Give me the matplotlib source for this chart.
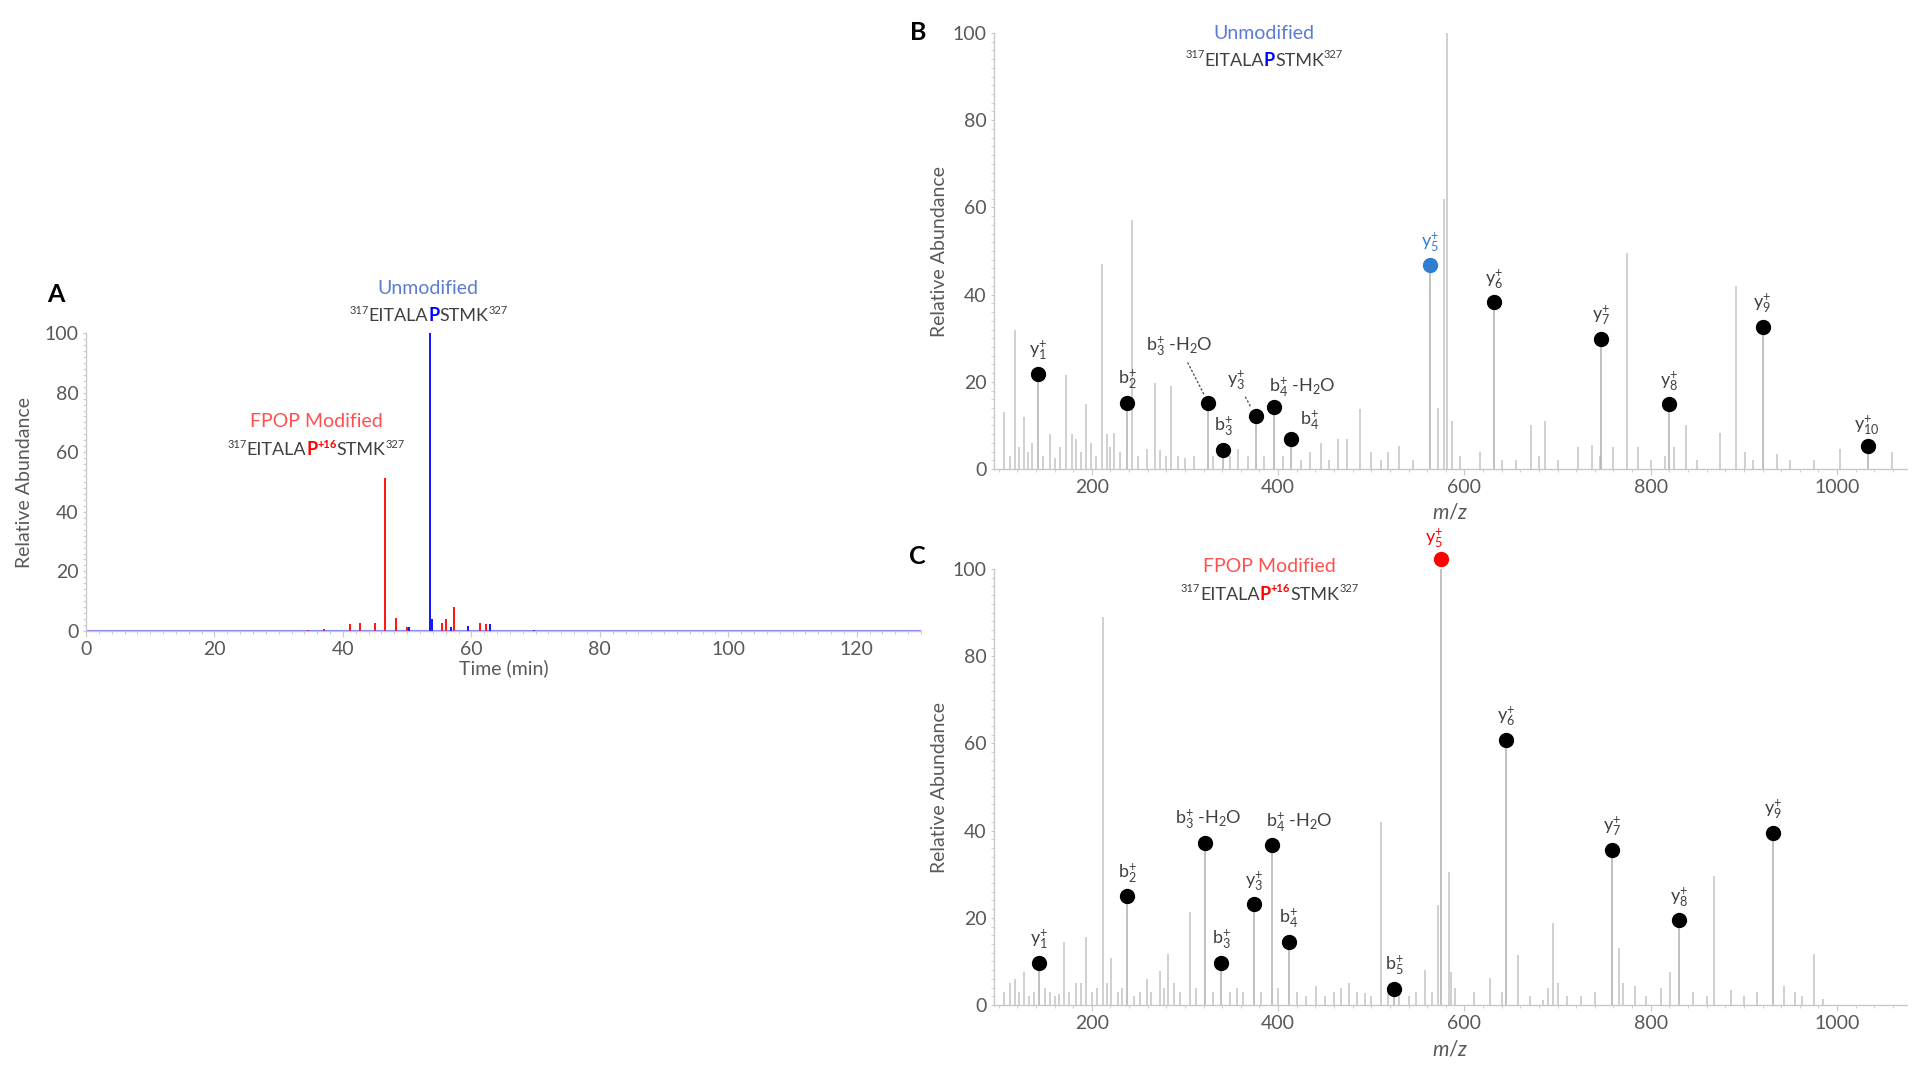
import numpy as np
import matplotlib
matplotlib.use('Agg')
import matplotlib.pyplot as plt
from matplotlib import transforms as mtransforms
from matplotlib.ticker import MultipleLocator

plt.rcParams['font.family'] = ['Lato', 'DejaVu Sans']
plt.rcParams['mathtext.fontset'] = 'custom'
plt.rcParams['mathtext.rm'] = 'Lato'
plt.rcParams['mathtext.it'] = 'Lato:italic'
plt.rcParams['mathtext.bf'] = 'Lato:bold'

# ---------------- data ----------------
# panel A, extracted ion chromatogram
unmod_time = [50.3, 53.5, 53.8, 56.8, 59.4, 62.9, 69.7]
unmod_abund = [1.2, 100, 4, 1.5, 1.7, 2.3, 0.3]
mod_time = [34.6, 37.0, 41.1, 42.7, 45.0, 46.6, 48.3, 50.0, 55.4, 56.0, 57.3, 61.4, 62.3]
mod_abund = [0.5, 0.6, 2.3, 2.8, 2.8, 51.4, 4.5, 1.4, 2.8, 4.0, 8.1, 2.8, 2.3]

# panel B, MS/MS spectrum of unmodified peptide
b_mz = [106, 112, 118, 122, 127, 131, 136, 148, 155, 160, 166, 172, 179, 183, 188, 194, 199,
        205, 211, 216, 220, 224, 230, 243, 250, 259, 268, 273, 280, 285, 292, 300, 310, 330,
        348, 357, 368, 385, 405, 425, 434, 446, 455, 464, 474, 488, 500, 510, 518, 530, 545,
        572, 578, 581, 587, 595, 617, 640, 655, 671, 680, 687, 700, 722, 737, 745, 759, 775,
        786, 800, 815, 825, 838, 850, 874, 891, 901, 910, 935, 950, 975, 1003, 1059]
b_int = [13, 3, 32, 5, 12, 4, 6, 3, 8, 2.5, 5, 21.6, 8, 7, 4, 15, 6,
         3, 47, 8, 5, 8.3, 4, 57, 3, 4.5, 19.7, 4.3, 3, 19, 3, 2.5, 3, 3,
         3, 4.5, 3, 3, 3, 2, 3.8, 6, 2, 7, 7, 13.7, 3.8, 2, 3.8, 5.3, 2,
         13.9, 62, 100, 11, 3, 3.8, 2, 2, 10, 3, 11, 2, 5, 5.5, 3, 5, 49.5,
         5, 2, 3, 5, 10, 2, 8.3, 42, 4, 2, 3.4, 2, 2, 4.5, 4]
b_ions = ['y1', 'b2', 'b3-H2O', 'b3', 'y3', 'b4-H2O', 'b4', 'y5', 'y6', 'y7', 'y8', 'y9', 'y10']
b_ion_mz = [142, 238, 325, 341, 376, 396, 414, 563, 632, 747, 820, 920, 1033]
b_ion_int = [21.8, 15.2, 15.2, 4.3, 12.1, 14.2, 6.8, 46.7, 38.2, 29.8, 14.8, 32.6, 5.3]

# panel C, MS/MS spectrum of FPOP modified peptide
c_mz = [106, 112, 118, 122, 127, 133, 138, 150, 155, 160, 165, 170, 176, 183, 188, 194, 200,
        206, 212, 216, 221, 228, 232, 245, 252, 259, 264, 273, 277, 282, 288, 295, 305, 312,
        330, 348, 356, 362, 382, 400, 420, 430, 441, 450, 460, 468, 476, 485, 493, 500, 510.6,
        518, 530, 540, 548, 558, 565, 572, 583, 586, 590, 610, 627, 640, 657, 670, 684, 690,
        695, 700, 710, 725, 740, 766, 770, 783, 795, 811, 821, 845, 860, 868, 886, 900, 914,
        943, 955, 962, 975, 985]
c_int = [3, 5, 5.9, 3, 7.5, 2, 3, 4, 3, 2, 2.5, 14.4, 3, 5, 5, 15.7, 3,
         4, 88.9, 5, 10.7, 3, 4, 2, 3, 5.9, 3, 7.8, 4, 11.8, 5, 3, 21.4, 4,
         3, 3, 4, 3, 3, 4, 3, 2, 4.3, 2, 3, 4, 5, 3, 2.7, 2, 42,
         4, 3, 2, 3, 8, 3, 23, 30.6, 7.5, 4, 3, 6.3, 3, 11.4, 2, 1.2, 4,
         18.8, 5, 2, 2, 3, 13, 5, 4.3, 2, 4, 7.5, 3, 2, 29.6, 3.5, 2, 3.1,
         4.3, 3, 2, 11.8, 1.5]
c_ions = ['y1', 'b2', 'b3-H2O', 'b3', 'y3', 'b4-H2O', 'b4', 'b5', 'y5', 'y6', 'y7', 'y8', 'y9']
c_ion_mz = [143.5, 238, 322, 339, 374, 393, 411.5, 524.6, 575, 645, 758, 830, 931]
c_ion_int = [9.7, 24.9, 37.1, 9.6, 23.1, 36.8, 14.5, 3.7, 102.2, 60.8, 35.5, 19.4, 39.5]

# ---------------- style ----------------
BLUE = '#0000ff'
RED = '#ff0000'
TXT_BLUE = '#5b7bd5'
TXT_RED = '#ff5050'
DOT_BLUE = '#2f7fd0'
DARK = '#404040'
STICK = '#c4c4c4'
AXC = '#c8c8c8'
TICKC = '#595959'

fig = plt.figure(figsize=(19.2, 10.65), dpi=100)
axA = fig.add_axes([0.0448, 0.4075, 0.4349, 0.2798])
axB = fig.add_axes([0.5177, 0.5596, 0.4755, 0.4094])
axC = fig.add_axes([0.5177, 0.0563, 0.4755, 0.4094])


def style_axis(ax, xmaj, xmin, ymin_step):
    for s in ['top', 'right']:
        ax.spines[s].set_visible(False)
    for s in ['left', 'bottom']:
        ax.spines[s].set_color(AXC)
        ax.spines[s].set_linewidth(1)
    ax.xaxis.set_major_locator(MultipleLocator(xmaj))
    ax.xaxis.set_minor_locator(MultipleLocator(xmin))
    ax.yaxis.set_major_locator(MultipleLocator(20))
    ax.yaxis.set_minor_locator(MultipleLocator(ymin_step))
    ax.tick_params(which='major', length=4, color=AXC, labelcolor=TICKC, labelsize=14)
    ax.tick_params(which='minor', length=2, color=AXC)
    ax.tick_params(axis='y', which='both', length=2)


def seq_text(ax, x, y, parts, size=13):
    # draw rich text centred on (x, y); parts = (string, colour, kind)
    rend = fig.canvas.get_renderer()
    texts, widths, raises = [], [], []
    for s, col, kind in parts:
        sup = 's' in kind
        t = ax.text(x, y, s, color=col, fontsize=size * (0.62 if sup else 1),
                    fontweight='bold' if 'b' in kind else 'normal',
                    ha='left', va='baseline', clip_on=False)
        texts.append(t)
        widths.append(t.get_window_extent(rend).width)
        raises.append(size * 0.42 * fig.dpi / 72 if sup else 0)
    total = sum(widths)
    cum = -total / 2
    for t, w, r in zip(texts, widths, raises):
        t.set_transform(mtransforms.offset_copy(ax.transData, fig=fig, x=cum, y=r, units='dots'))
        cum += w


def ion_tex(name):
    if '-' in name:
        base = name.split('-')[0]
        return r'$\mathregular{%s_{%s}^{+}}$ -H$\mathregular{_2}$O' % (base[0], base[1:])
    return r'$\mathregular{%s_{%s}^{+}}$' % (name[0], name[1:])


def draw_spectrum(ax, mz, inten, ions, ion_mz, ion_int, hi_ion, hi_col, offsets, leaders,
                  xlab_y):
    ax.vlines(mz, 0, inten, color=STICK, lw=1.1)
    ax.vlines(ion_mz, 0, ion_int, color='#b0b0b0', lw=1.1)
    for name, x, y in zip(ions, ion_mz, ion_int):
        col = hi_col if name == hi_ion else 'black'
        ax.plot(x, y, 'o', ms=10, color=col, clip_on=False, zorder=5)
        dx, dy, ha = offsets.get(name, (0, 17, 'center'))
        arrow = None
        if name in leaders:
            arrow = dict(arrowstyle='-', linestyle=(0, (1, 2)), color='#555555', lw=1,
                         shrinkA=2, shrinkB=7)
        ax.annotate(ion_tex(name), (x, y), xytext=(dx, dy), textcoords='offset points',
                    ha=ha, va='center', fontsize=13,
                    color=hi_col if name == hi_ion else DARK, arrowprops=arrow,
                    annotation_clip=False)
    ax.set_xlim(95, 1075)
    ax.set_ylim(0, 100)
    style_axis(ax, 200, 20, 2)
    ax.set_ylabel('Relative Abundance', fontsize=14, color=TICKC)
    ax.yaxis.set_label_coords(-0.050, 0.5)
    ax.set_xlabel(r'$m/z$', fontsize=15, color=TICKC)
    ax.xaxis.set_label_coords(0.5, xlab_y)


# ---------------- panel A ----------------
axA.axhline(0, color=BLUE, lw=1.5, alpha=0.5)
axA.axhline(0, color=RED, lw=0.8, alpha=0.3)
axA.vlines(mod_time, 0, mod_abund, color=RED, lw=1.3)
axA.vlines(unmod_time, 0, unmod_abund, color=BLUE, lw=1.3)
axA.set_xlim(0, 130)
axA.set_ylim(0, 100)
style_axis(axA, 20, 2, 2)
axA.set_ylabel('Relative Abundance', fontsize=14, color=TICKC)
axA.yaxis.set_label_coords(-0.064, 0.5)
axA.set_xlabel('Time (min)', fontsize=14, color=TICKC)
axA.xaxis.set_label_coords(0.5, -0.094)

axA.text(53.3, 115, 'Unmodified', color=TXT_BLUE, fontsize=14, ha='center', va='center',
         clip_on=False)
seq_text(axA, 53.3, 104, [('317', DARK, 's'), ('EITALA', DARK, 'n'), ('P', BLUE, 'b'),
                          ('STMK', DARK, 'n'), ('327', DARK, 's')])
axA.text(35.8, 70.4, 'FPOP Modified', color=TXT_RED, fontsize=14, ha='center', va='center')
seq_text(axA, 35.8, 59, [('317', DARK, 's'), ('EITALA', DARK, 'n'), ('P', RED, 'b'),
                         ('+16', RED, 'sb'), ('STMK', DARK, 'n'), ('327', DARK, 's')])

# ---------------- panel B ----------------
offsB = {'b3-H2O': (-21, 41, 'center'), 'y3': (-14, 26, 'center'),
         'b4-H2O': (-4, 14, 'left'), 'b4': (13, 14, 'center'), 'y10': (-1, 15, 'center')}
draw_spectrum(axB, b_mz, b_int, b_ions, b_ion_mz, b_ion_int, 'y5', DOT_BLUE, offsB,
              ['b3-H2O', 'y3'], -0.076)
axB.text(385, 100, 'Unmodified', color=TXT_BLUE, fontsize=14, ha='center', va='center')
seq_text(axB, 385, 92.5, [('317', DARK, 's'), ('EITALA', DARK, 'n'), ('P', BLUE, 'b'),
                          ('STMK', DARK, 'n'), ('327', DARK, 's')])

# ---------------- panel C ----------------
offsC = {'y5': (-5, 15, 'center'), 'b4-H2O': (-4, 16, 'left'), 'b3-H2O': (2, 17, 'center')}
draw_spectrum(axC, c_mz, c_int, c_ions, c_ion_mz, c_ion_int, 'y5', RED, offsC, [], -0.08)
axC.text(391, 100.5, 'FPOP Modified', color=TXT_RED, fontsize=14, ha='center', va='center',
         clip_on=False)
seq_text(axC, 391, 93, [('317', DARK, 's'), ('EITALA', DARK, 'n'), ('P', RED, 'b'),
                        ('+16', RED, 'sb'), ('STMK', DARK, 'n'), ('327', DARK, 's')])

# panel letters
fig.text(0.029, 1 - 294 / 1065, 'A', fontsize=18, fontweight='bold', va='center', ha='center')
fig.text(0.478, 1 - 33 / 1065, 'B', fontsize=18, fontweight='bold', va='center', ha='center')
fig.text(0.478, 1 - 557 / 1065, 'C', fontsize=18, fontweight='bold', va='center', ha='center')

fig.savefig('out.png', dpi=100)
